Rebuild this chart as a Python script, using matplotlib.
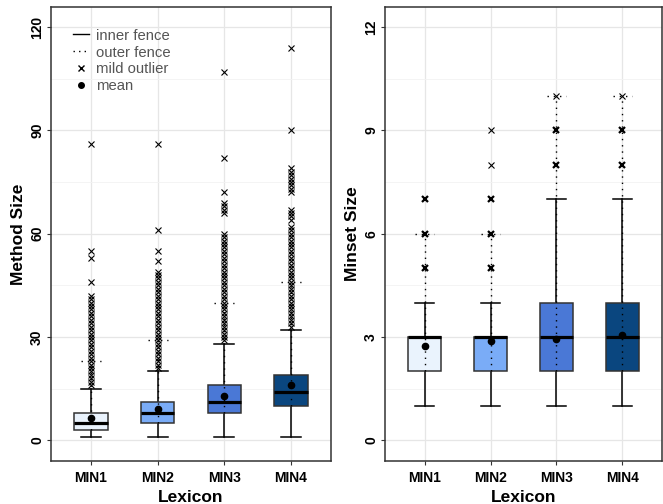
import matplotlib.pyplot as plt
from matplotlib.lines import Line2D

plt.rcParams["font.family"] = ["Liberation Sans", "DejaVu Sans"]

# Summary values
lexicons = ["MIN1", "MIN2", "MIN3", "MIN4"]
box_colors = ["#EAF3FD", "#7AACF7", "#4A78D6", "#0A467F"]

# Method size panel
method_q1 = [3, 5, 8, 10]
method_med = [5, 8, 11, 14]
method_q3 = [8, 11, 16, 19]
method_lo = [1, 1, 1, 1]
method_hi = [15, 20, 28, 32]
method_fence = [23, 29, 40, 46]
method_mean = [6.5, 9.0, 13.0, 16.0]
method_outliers = [
    [16, 17, 18, 19, 20, 21, 22, 23, 24, 25, 26, 27, 28, 29, 30, 31, 32, 33,
     34, 35, 36, 37, 38, 39, 40, 41, 42, 46, 53, 55, 86],
    [21, 22, 23, 24, 25, 26, 27, 28, 29, 30, 31, 32, 33, 34, 35, 36, 37, 38,
     39, 40, 41, 42, 43, 44, 45, 46, 47, 48, 49, 52, 55, 61, 86],
    [29, 30, 31, 32, 33, 34, 35, 36, 37, 38, 39, 40, 41, 42, 43, 44, 45, 46,
     47, 48, 49, 50, 51, 52, 53, 54, 55, 56, 57, 58, 59, 60, 66, 67, 68, 69,
     72, 82, 107],
    [33, 34, 35, 36, 37, 38, 39, 40, 41, 42, 43, 44, 45, 46, 47, 48, 49, 50,
     51, 52, 53, 54, 55, 56, 57, 58, 59, 60, 61, 62, 64, 65, 66, 67, 72, 73,
     74, 75, 76, 77, 78, 79, 90, 114],
]

# Minset size panel
minset_q1 = [2, 2, 2, 2]
minset_med = [3, 3, 3, 3]
minset_q3 = [3, 3, 4, 4]
minset_lo = [1, 1, 1, 1]
minset_hi = [4, 4, 7, 7]
minset_fence = [6, 6, 10, 10]
minset_mean = [2.74, 2.88, 2.95, 3.06]
minset_outliers = [[5, 6, 7], [5, 6, 7, 8, 9], [8, 9, 10], [8, 9, 10]]
minset_counts = [[3, 4, 3], [3, 4, 3, 1, 1], [4, 3, 1], [4, 3, 1]]


def draw_panel(ax, q1, med, q3, lo, hi, fence, mean, outliers, counts=None):
    bw = 0.25
    cw = 0.15
    for i in range(len(lexicons)):
        x = i + 1
        # dotted line up to the outer fence
        ax.plot([x, x], [q1[i], fence[i]], color="black", lw=1,
                ls=(0, (1, 3.5)), zorder=4)
        ax.plot([x - cw, x + cw], [fence[i], fence[i]], color="black", lw=1,
                ls=(0, (1, 3.5)), zorder=4)
        # whiskers
        ax.plot([x, x], [lo[i], q1[i]], color="black", lw=1.1, zorder=3)
        ax.plot([x, x], [q3[i], hi[i]], color="black", lw=1.1, zorder=3)
        ax.plot([x - cw, x + cw], [lo[i], lo[i]], color="black", lw=1.1, zorder=3)
        ax.plot([x - cw, x + cw], [hi[i], hi[i]], color="black", lw=1.1, zorder=3)
        # box
        ax.add_patch(plt.Rectangle((x - bw, q1[i]), 2 * bw, q3[i] - q1[i],
                                   facecolor=box_colors[i], edgecolor="#333333",
                                   lw=1.1, zorder=3))
        ax.plot([x - bw, x + bw], [med[i], med[i]], color="black", lw=2.3,
                zorder=5, solid_capstyle="butt")
        ax.plot(x, mean[i], "o", color="black", ms=4.5, zorder=6)
        # outliers
        for j, v in enumerate(outliers[i]):
            mew = 0.8
            if counts is not None and counts[i][j] > 1:
                mew = 1.6
            ax.plot(x, v, "x", color="black", ms=4.8, mew=mew, zorder=6)

    ax.set_xlim(0.4, 4.6)
    ax.set_xticks([1, 2, 3, 4])
    ax.set_xticklabels(lexicons, fontsize=10, fontweight="bold")
    ax.set_xlabel("Lexicon", fontsize=12.5, fontweight="bold", labelpad=4)
    ax.grid(True, which="major", color="#E6E6E6", lw=0.9, zorder=0)
    ax.grid(True, which="minor", axis="y", color="#F2F2F2", lw=0.6, zorder=0)
    ax.set_axisbelow(True)
    for s in ax.spines.values():
        s.set_color("#333333")
        s.set_linewidth(1.1)
    ax.tick_params(which="major", length=3, color="#333333", pad=2)
    ax.tick_params(axis="x", which="major", pad=4)
    ax.tick_params(which="minor", length=0)
    for lab in ax.get_yticklabels():
        lab.set_rotation(90)
        lab.set_va("center")
        lab.set_fontweight("bold")
        lab.set_fontsize(10)


fig = plt.figure(figsize=(6.63, 5.04), dpi=100)
ax1 = fig.add_axes([0.0769, 0.0853, 0.4223, 0.9008])
ax2 = fig.add_axes([0.5807, 0.0853, 0.4178, 0.9008])

ax1.set_ylim(-6, 125.8)
ax1.set_yticks([0, 30, 60, 90, 120])
ax1.set_yticks([15, 45, 75, 105], minor=True)
draw_panel(ax1, method_q1, method_med, method_q3, method_lo, method_hi,
           method_fence, method_mean, method_outliers)
ax1.set_ylabel("Method Size", fontsize=12.5, fontweight="bold", labelpad=3)

ax2.set_ylim(-0.6, 12.58)
ax2.set_yticks([0, 3, 6, 9, 12])
ax2.set_yticks([1.5, 4.5, 7.5, 10.5], minor=True)
draw_panel(ax2, minset_q1, minset_med, minset_q3, minset_lo, minset_hi,
           minset_fence, minset_mean, minset_outliers, minset_counts)
ax2.set_ylabel("Minset Size", fontsize=12.5, fontweight="bold", labelpad=3)

handles = [
    Line2D([], [], color="black", lw=1),
    Line2D([], [], color="black", lw=1, ls=(0, (1, 3))),
    Line2D([], [], color="black", ls="none", marker="x", ms=4.5, mew=1),
    Line2D([], [], color="black", ls="none", marker="o", ms=4),
]
leg = ax1.legend(handles, ["inner fence", "outer fence", "mild outlier", "mean"],
                 loc="upper left", bbox_to_anchor=(0.03, 0.982), frameon=False,
                 fontsize=10.7, handlelength=1.1, handletextpad=0.45,
                 labelspacing=0.2)
for t in leg.get_texts():
    t.set_color("#555555")

fig.savefig("out.png", dpi=100)
